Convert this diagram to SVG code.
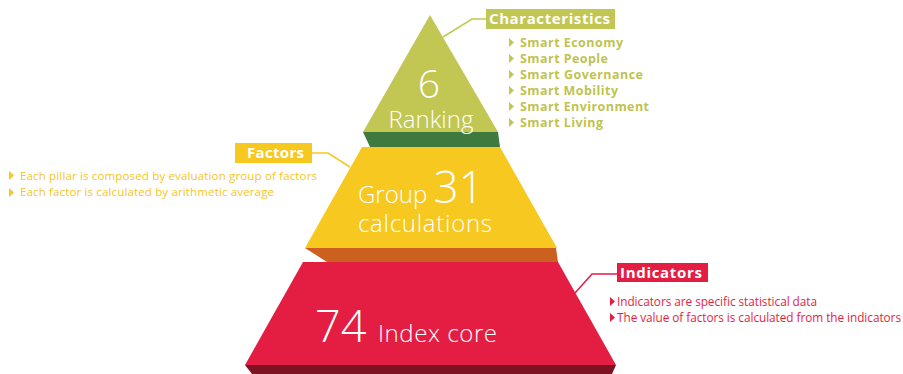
<svg xmlns="http://www.w3.org/2000/svg" width="903" height="374" viewBox="0 0 903 374">
<style>
text{font-family:"Open Sans","Noto Sans","Liberation Sans",sans-serif}
.w{fill:#fff;font-weight:300}
.lbl{fill:#fff;font-weight:700;font-size:15px}
.gt{fill:#bfc34f;font-weight:700;font-size:12.5px}
.yt{fill:#f5c51f;font-size:11.5px}
.rt{fill:#e31e42;font-size:11.8px}
.conn{fill:none;stroke-width:1.5}
</style>
<rect width="903" height="374" fill="#fff"/>
<g id="level-bottom">
<polygon points="245,365 616,365 612,374 252,374" fill="#7d1322"/>
<polygon points="303,262 558,262 616,365 245,365" fill="#e31e42"/>
<text class="w" x="315" y="342" font-size="45">74</text>
<text class="w" x="378" y="342" font-size="24" textLength="119">Index core</text>
</g>
<g id="level-middle">
<polygon points="305,248 556,248 558,262 327,262" fill="#cc6020"/>
<polygon points="362,147 500,147 557,248 305,248" fill="#f7c81f"/>
<text class="w" x="358" y="203" font-size="24">Group <tspan font-size="44">31</tspan></text>
<text class="w" x="358" y="232" font-size="24" textLength="134">calculations</text>
</g>
<g id="level-top">
<polygon points="363,132 498,132 500,147 370,147" fill="#3e7a3e"/>
<polygon points="430,15 498,132 363,132" fill="#c2c653"/>
<text class="w" x="429" y="98" font-size="39" text-anchor="middle">6</text>
<text class="w" x="431" y="128" font-size="24" text-anchor="middle">Ranking</text>
</g>
<g id="connectors">
<polyline class="conn" points="443,37 472,19 486,19" stroke="#c2c653"/>
<polyline class="conn" points="312,153 328,153 350,167" stroke="#f7c81f"/>
<polyline class="conn" points="617,274 592,274 575,293" stroke="#e31e42"/>
</g>
<g id="characteristics">
<rect x="486" y="9" width="129" height="20" fill="#c2c653"/>
<text class="lbl" x="489" y="24" textLength="121">Characteristics</text>
<g fill="#c2c653">
<polygon points="509,38 514,42.5 509,47"/>
<polygon points="509,54 514,58.5 509,63"/>
<polygon points="509,70 514,74.5 509,79"/>
<polygon points="509,86 514,90.5 509,95"/>
<polygon points="509,102 514,106.5 509,111"/>
<polygon points="509,118 514,122.5 509,127"/>
</g>
<text class="gt" x="520" y="47" textLength="103">Smart Economy</text>
<text class="gt" x="520" y="63" textLength="88">Smart People</text>
<text class="gt" x="520" y="79" textLength="123">Smart Governance</text>
<text class="gt" x="520" y="95" textLength="98">Smart Mobility</text>
<text class="gt" x="520" y="111" textLength="129">Smart Environment</text>
<text class="gt" x="520" y="127" textLength="83">Smart Living</text>
</g>
<g id="factors">
<rect x="235" y="143" width="77" height="20" fill="#f7c81f"/>
<text class="lbl" x="247" y="158" textLength="57">Factors</text>
<g fill="#f7c81f">
<polygon points="9,171 14,175.5 9,180"/>
<polygon points="9,188 14,192.5 9,197"/>
</g>
<text class="yt" x="20" y="180" textLength="297">Each pillar is composed by evaluation group of factors</text>
<text class="yt" x="20" y="196" textLength="254">Each factor is calculated by arithmetic average</text>
</g>
<g id="indicators">
<rect x="617" y="263" width="91" height="19" fill="#e31e42"/>
<text class="lbl" x="620" y="278" textLength="82">Indicators</text>
<g fill="#e31e42">
<polygon points="610,297 615,301.5 610,306"/>
<polygon points="610,313 615,317.5 610,322"/>
</g>
<text class="rt" x="617" y="305.5" textLength="200">Indicators are specific statistical data</text>
<text class="rt" x="617" y="321.5" textLength="284">The value of factors is calculated from the indicators</text>
</g>
</svg>
